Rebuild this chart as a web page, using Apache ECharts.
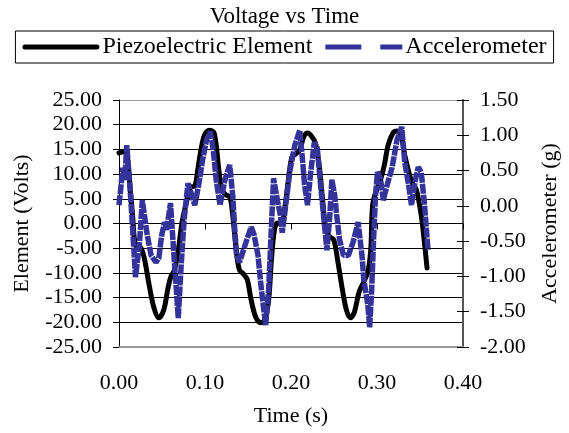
<!DOCTYPE html>
<html><head><meta charset="utf-8">
<script src="https://cdn.jsdelivr.net/npm/echarts@6/dist/echarts.min.js"></script>
<style>html,body{margin:0;padding:0;background:#fff}#c{width:569px;height:433px}</style>
</head><body><div id="c"></div>
<script>
const chartTitle = "Voltage vs Time";
const seriesNames = ["Piezoelectric Element", "Accelerometer"];
const xAxisName = "Time (s)";
const yLeftName = "Element (Volts)";
const yRightName = "Accelerometer (g)";

const pieTime = [0,0.0056,0.009,0.0124,0.0158,0.0192,0.0249,0.0294,0.035,0.0407,0.0463,0.052,0.0565,0.0599,0.0644,0.0689,0.0734,0.0791,0.0836,0.0881,0.0915,0.0949,0.0994,0.1051,0.1107,0.1164,0.1198,0.1243,0.1288,0.1322,0.1345,0.1367,0.1401,0.1446,0.1492,0.1537,0.1593,0.165,0.1695,0.174,0.1774,0.1808,0.1842,0.1887,0.1932,0.1966,0.2011,0.2056,0.2102,0.2147,0.2192,0.2237,0.2282,0.2328,0.2362,0.2407,0.2452,0.2497,0.2542,0.2599,0.2644,0.2689,0.2734,0.2791,0.2836,0.2893,0.2927,0.2949,0.2994,0.304,0.3085,0.313,0.3186,0.3232,0.3277,0.3322,0.3379,0.3412,0.3458,0.3514,0.3548,0.3582];
const pieVolt = [14.3,14.5,13.9,8.2,1.7,-4.4,-4.8,-7.0,-12.4,-17.1,-19.1,-17.5,-13.5,-11.0,-9.4,-5.4,0.3,4.8,7.4,7.6,10.8,14.5,17.9,18.9,18.3,10.4,6.8,5.8,5.4,1.7,-2.3,-6.0,-9.4,-10.2,-11.4,-15.5,-19.1,-20.1,-19.5,-15.5,-7.0,-1.3,0.1,-0.1,3.7,8.4,13.5,14.1,14.9,17.5,18.3,17.7,16.3,11.8,5.8,-1.3,-2.7,-3.3,-7.4,-13.5,-17.5,-19.1,-18.1,-13.9,-12.2,-9.8,-5.4,3.7,6.8,8.8,11.8,15.9,18.3,18.7,17.9,13.9,9.8,8.2,6.8,1.7,-3.3,-9.0];

const accTime = [0,0.0045,0.0068,0.009,0.0124,0.0158,0.0192,0.0237,0.0271,0.0328,0.0373,0.0429,0.0463,0.0497,0.0531,0.0554,0.0599,0.0644,0.0667,0.0689,0.0723,0.0757,0.0802,0.0847,0.0881,0.0927,0.0972,0.1017,0.1062,0.1096,0.113,0.1175,0.1232,0.1288,0.1322,0.1345,0.1367,0.1401,0.1446,0.1492,0.1537,0.1571,0.1616,0.165,0.1684,0.1706,0.174,0.1763,0.1797,0.1842,0.1876,0.1898,0.1932,0.1989,0.2045,0.2102,0.2136,0.2158,0.2192,0.2226,0.2271,0.2305,0.235,0.2395,0.2418,0.2452,0.2475,0.2508,0.2531,0.2565,0.261,0.2667,0.2723,0.278,0.2825,0.2847,0.2893,0.2915,0.2938,0.296,0.2983,0.3006,0.304,0.3073,0.3119,0.3175,0.3232,0.3288,0.3322,0.3367,0.3401,0.3446,0.348,0.3514,0.3548,0.3571,0.3593];
const accG = [0.01,0.54,0.37,0.86,0.34,-0.31,-1.01,-0.55,0.08,-0.41,-0.70,-0.80,-0.74,-0.41,-0.23,-0.34,0.04,-0.80,-1.19,-1.59,-0.84,-0.20,0.32,0.15,0.01,0.30,0.65,0.93,1.05,0.79,0.37,0.01,0.37,0.58,0.15,-0.31,-0.70,-0.80,-0.63,-0.46,-0.30,-0.41,-0.70,-1.12,-1.48,-1.69,-1.19,-0.55,0.39,0.08,-0.13,-0.38,-0.06,0.51,0.86,1.07,0.62,0.30,0.01,0.44,0.90,0.82,0.22,-0.34,-0.63,-0.13,0.37,0.15,-0.13,-0.48,-0.70,-0.70,-0.51,-0.23,-0.70,-1.05,-1.40,-1.72,-1.19,-0.48,0.15,0.48,0.39,0.08,0.30,0.54,0.93,1.12,0.62,0.30,0.01,0.37,0.55,0.48,0.08,-0.27,-0.63];

const xTicks = {min: 0, max: 0.4, interval: 0.1};
const yLeftTicks = {min: -25, max: 25, interval: 5};
const yRightTicks = {min: -2, max: 1.5, interval: 0.5};

const FONT = "Liberation Serif";
const fmt2 = v => v.toFixed(2);
const pieData = pieTime.map((t, i) => [t, pieVolt[i]]);
const accData = accTime.map((t, i) => [t, accG[i]]);

const chart = echarts.init(document.getElementById('c'), null, {renderer: 'canvas'});
const splitColors = [];
for (let v = yLeftTicks.min; v <= yLeftTicks.max + 1e-9; v += yLeftTicks.interval) {
  splitColors.push((v === yLeftTicks.min || Math.abs(v - yLeftTicks.max) < 1e-9) ? '#999' : '#000');
}
chart.setOption({
  backgroundColor: '#fff',
  animation: false,
  textStyle: {fontFamily: FONT},
  title: {text: chartTitle, left: 'center', top: 0,
    textStyle: {fontFamily: FONT, fontSize: 23, fontWeight: 'normal', color: '#000'}},
  legend: {
    top: 31, left: 'center', padding: [4, 7, 4, 7], itemGap: 13,
    borderColor: '#000', borderWidth: 1,
    itemWidth: 77, itemHeight: 5,
    textStyle: {fontFamily: FONT, fontSize: 24, color: '#000', padding: [0, 0, 0, -2]},
    data: [
      {name: seriesNames[0], icon: 'path://M2.5,0 H74.5 A2.5,2.5 0 0 1 74.5,5 H2.5 A2.5,2.5 0 0 1 2.5,0 Z'},
      {name: seriesNames[1], icon: 'path://M0,0 H36 V5 H0 Z M55,0 H77 V5 H55 Z'}
    ]
  },
  grid: {left: 119, right: 97, top: 100, bottom: 86, containLabel: false},
  xAxis: [{
    type: 'value', position: 'bottom', ...xTicks,
    axisLine: {show: true, onZero: false, lineStyle: {color: '#999', width: 2}},
    axisTick: {show: false},
    axisLabel: {margin: 25, formatter: fmt2, fontFamily: FONT, fontSize: 22, color: '#000'},
    splitLine: {show: false},
    name: xAxisName, nameLocation: 'middle', nameGap: 58,
    nameTextStyle: {fontFamily: FONT, fontSize: 22, color: '#000'}
  }, {
    type: 'value', position: 'bottom', ...xTicks,
    axisLine: {show: true, onZero: true, onZeroAxisIndex: 0, lineStyle: {color: '#000', width: 1}},
    axisTick: {show: true, length: 6, inside: false, lineStyle: {color: '#000'}},
    axisLabel: {show: false},
    splitLine: {show: false}
  }],
  yAxis: [{
    type: 'value', position: 'left', ...yLeftTicks,
    axisLine: {show: true, onZero: false, lineStyle: {color: '#000', width: 1}},
    axisTick: {show: true, length: 6, lineStyle: {color: '#000'}},
    axisLabel: {margin: 17, formatter: fmt2, fontFamily: FONT, fontSize: 22, color: '#000'},
    splitLine: {show: true, lineStyle: {color: splitColors, width: 1}},
    name: yLeftName, nameLocation: 'middle', nameGap: 86, nameRotate: 90,
    nameTextStyle: {fontFamily: FONT, fontSize: 22, color: '#000'}
  }, {
    type: 'value', position: 'right', ...yRightTicks,
    axisLine: {show: true, onZero: false, lineStyle: {color: '#555', width: 2}},
    axisTick: {show: true, length: 6, lineStyle: {color: '#000'}},
    axisLabel: {margin: 17, formatter: fmt2, fontFamily: FONT, fontSize: 22, color: '#000'},
    splitLine: {show: false},
    name: yRightName, nameLocation: 'middle', nameGap: 76, nameRotate: 90,
    nameTextStyle: {fontFamily: FONT, fontSize: 22, color: '#000'}
  }, {
    type: 'value', position: 'right', ...yRightTicks,
    axisLine: {show: false, onZero: false},
    axisTick: {show: true, length: 6, inside: true, lineStyle: {color: '#000'}},
    axisLabel: {show: false},
    splitLine: {show: false}
  }],
  series: [{
    name: seriesNames[0], type: 'line', xAxisIndex: 0, yAxisIndex: 0,
    data: pieData, showSymbol: false, symbol: 'none', smooth: 0.35,
    lineStyle: {color: '#000', width: 5, cap: 'round', join: 'round'},
    itemStyle: {color: '#000'}, z: 2
  }, {
    name: seriesNames[1], type: 'line', xAxisIndex: 0, yAxisIndex: 1,
    data: accData, showSymbol: false, symbol: 'none',
    lineStyle: {color: '#333399', width: 5.5, type: [10, 1]},
    itemStyle: {color: '#333399'}, z: 3
  }]
});
</script></body></html>
